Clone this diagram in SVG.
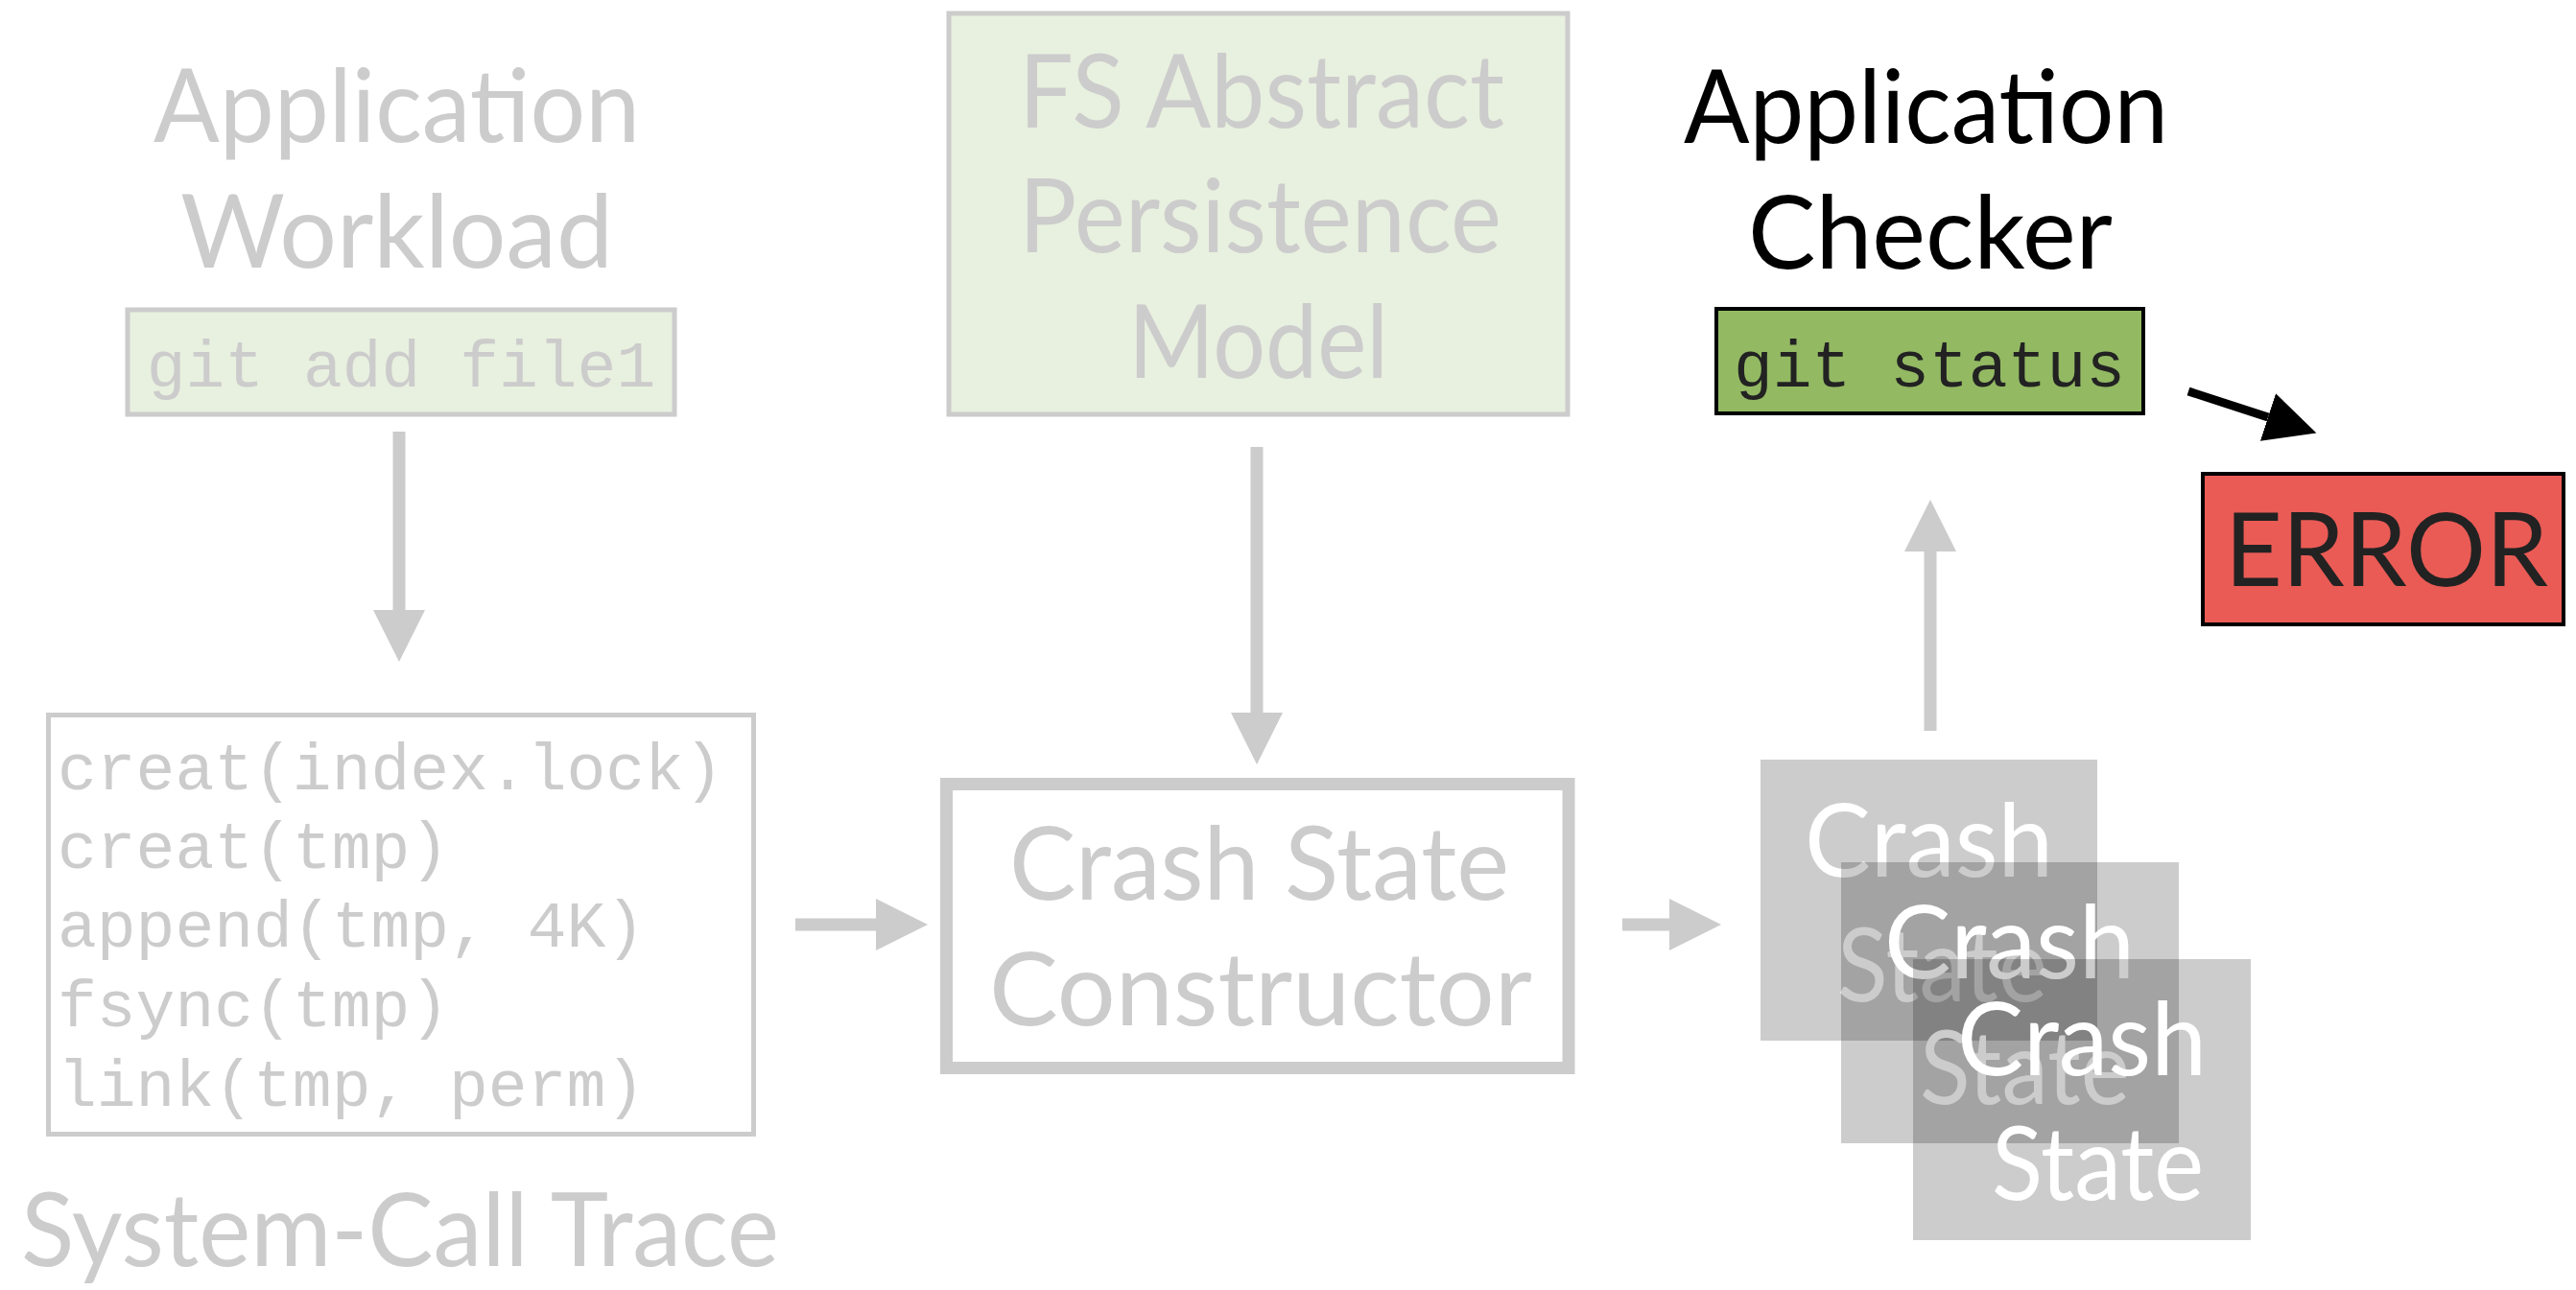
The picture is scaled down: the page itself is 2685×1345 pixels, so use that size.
<svg xmlns="http://www.w3.org/2000/svg" width="2685" height="1345" viewBox="0 0 2685 1345">
<defs>
<style>
.sans{font-family:Lato,"Open Sans","Liberation Sans",sans-serif;font-size:106px;}
.mono{font-family:"Liberation Mono","Courier New",monospace;font-size:68px;}
.gray{fill:#cccccc;}
.black{fill:#000000;}
.dark{fill:#222222;}
.white{fill:#ffffff;}
.gconn{stroke:#cccccc;stroke-width:13;fill:none;}
.bconn{stroke:#000000;stroke-width:9;fill:none;}
.stack{fill:#000000;fill-opacity:0.2;}
</style>
<marker id="ghead" markerUnits="userSpaceOnUse" markerWidth="54" markerHeight="54" refX="0" refY="27" orient="auto" viewBox="0 0 54 54">
<path d="M0,0 L54,27 L0,54 Z" fill="#cccccc"/>
</marker>
<marker id="bhead" markerUnits="userSpaceOnUse" markerWidth="54" markerHeight="52" refX="0" refY="26" orient="auto" viewBox="0 0 54 52">
<path d="M0,0 L53,26 L0,52 Z" fill="#000000"/>
</marker>
</defs>
<rect x="0" y="0" width="2685" height="1345" fill="#ffffff"/>

<g id="workload">
<text class="sans gray" x="160" y="148" textLength="507" lengthAdjust="spacingAndGlyphs">Application</text>
<text class="sans gray" x="188" y="279" textLength="451" lengthAdjust="spacingAndGlyphs">Workload</text>
<rect x="133" y="323" width="570" height="109" fill="#e8f0df" stroke="#cccccc" stroke-width="5"/>
<text class="mono gray" x="418" y="403" text-anchor="middle">git add file1</text>
</g>

<g id="fs-model">
<rect x="989" y="14" width="645" height="418" fill="#e8f0df" stroke="#cccccc" stroke-width="5"/>
<text class="sans gray" x="1062" y="133" textLength="506" lengthAdjust="spacingAndGlyphs">FS Abstract</text>
<text class="sans gray" x="1062" y="263" textLength="503" lengthAdjust="spacingAndGlyphs">Persistence</text>
<text class="sans gray" x="1176" y="394" textLength="271" lengthAdjust="spacingAndGlyphs">Model</text>
</g>

<g id="checker">
<text class="sans black" x="1755" y="149" textLength="505" lengthAdjust="spacingAndGlyphs">Application</text>
<text class="sans black" x="1822" y="280" textLength="380" lengthAdjust="spacingAndGlyphs">Checker</text>
<rect x="1789" y="322" width="445" height="109" fill="#93b963" stroke="#000000" stroke-width="4"/>
<text class="mono dark" x="2011" y="403" text-anchor="middle">git status</text>
</g>

<g id="error">
<rect x="2296" y="494" width="376" height="157" fill="#ea5b55" stroke="#000000" stroke-width="4"/>
<text class="sans dark" x="2319" y="611" textLength="337" lengthAdjust="spacingAndGlyphs">ERROR</text>
</g>

<g id="trace">
<rect x="50.5" y="745.5" width="735" height="437" fill="#ffffff" stroke="#cccccc" stroke-width="5"/>
<text class="mono gray" x="60" y="823">creat(index.lock)</text>
<text class="mono gray" x="60" y="905">creat(tmp)</text>
<text class="mono gray" x="60" y="987">append(tmp, 4K)</text>
<text class="mono gray" x="60" y="1070">fsync(tmp)</text>
<text class="mono gray" x="60" y="1153">link(tmp, perm)</text>
<text class="sans gray" x="22" y="1320" textLength="790" lengthAdjust="spacingAndGlyphs">System-Call Trace</text>
</g>

<g id="constructor">
<rect x="986.5" y="817.5" width="648.5" height="296" fill="#ffffff" stroke="#cccccc" stroke-width="13"/>
<text class="sans gray" x="1052" y="938" textLength="521" lengthAdjust="spacingAndGlyphs">Crash State</text>
<text class="sans gray" x="1031" y="1069" textLength="566" lengthAdjust="spacingAndGlyphs">Constructor</text>
</g>

<g id="crash-states">
<rect class="stack" x="1835" y="792" width="351" height="293"/>
<text class="sans white" x="1881" y="914" textLength="259" lengthAdjust="spacingAndGlyphs">Crash</text>
<text class="sans white" x="1915" y="1044" textLength="219" lengthAdjust="spacingAndGlyphs">State</text>
<rect class="stack" x="1919" y="899" width="352" height="293"/>
<text class="sans white" x="1964" y="1020" textLength="261" lengthAdjust="spacingAndGlyphs">Crash</text>
<text class="sans white" x="2001" y="1151" textLength="219" lengthAdjust="spacingAndGlyphs">State</text>
<rect class="stack" x="1994" y="1000" width="352" height="293"/>
<text class="sans white" x="2040" y="1121" textLength="260" lengthAdjust="spacingAndGlyphs">Crash</text>
<text class="sans white" x="2076" y="1251" textLength="221" lengthAdjust="spacingAndGlyphs">State</text>
</g>

<g id="connectors">
<line class="gconn" x1="416" y1="450" x2="416" y2="636" marker-end="url(#ghead)"/>
<line class="gconn" x1="1310" y1="466" x2="1310" y2="743" marker-end="url(#ghead)"/>
<line class="gconn" x1="829" y1="964" x2="913" y2="964" marker-end="url(#ghead)"/>
<line class="gconn" x1="1691" y1="964" x2="1740" y2="964" marker-end="url(#ghead)"/>
<line class="gconn" x1="2012" y1="762" x2="2012" y2="575" marker-end="url(#ghead)"/>
<line class="bconn" x1="2281" y1="408" x2="2364" y2="435" marker-end="url(#bhead)"/>
</g>
</svg>
